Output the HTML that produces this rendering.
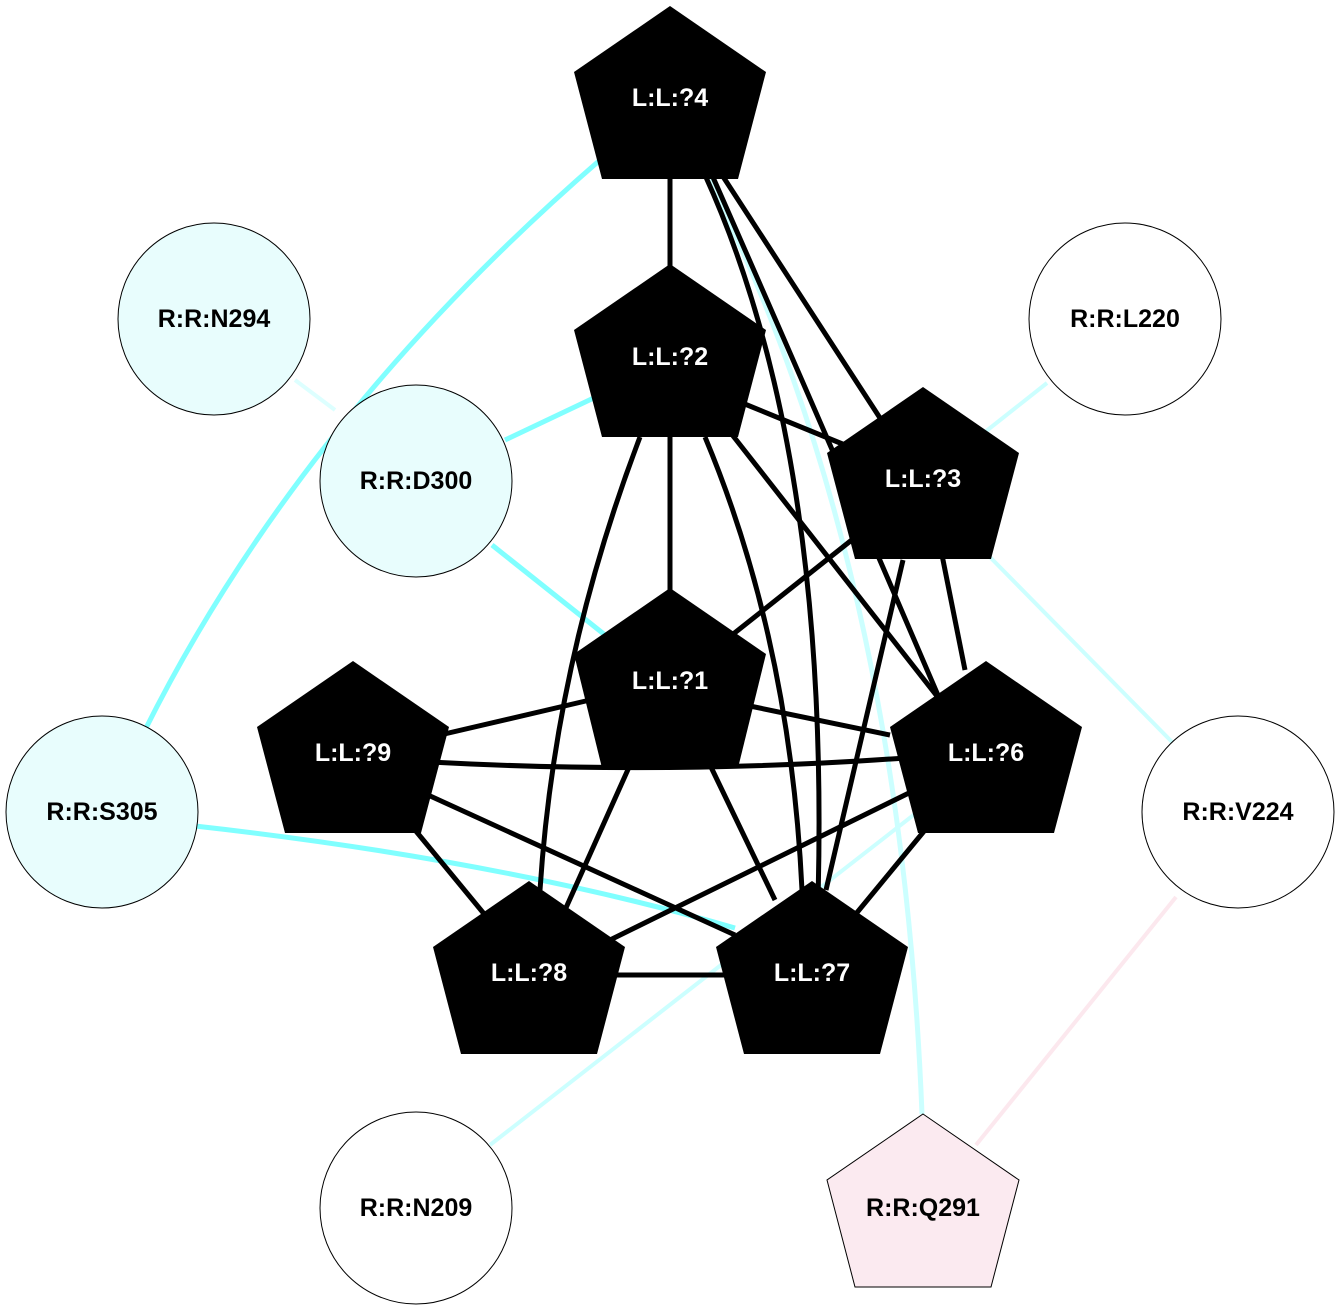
<!DOCTYPE html>
<html><head><meta charset="utf-8"><style>body{margin:0;background:#fff}svg{display:block}text{font-family:"Liberation Sans",sans-serif;font-weight:bold;font-size:25px;text-anchor:middle;dominant-baseline:central}</style></head><body>
<svg width="1340" height="1312" viewBox="0 0 1340 1312">
<g fill="none" stroke-linecap="butt">
<path d="M600,160 Q300,420 145,730" stroke="#80ffff" stroke-width="5"/>
<path d="M600,395 L505,440" stroke="#80ffff" stroke-width="5"/>
<path d="M492,545 L605,635" stroke="#80ffff" stroke-width="5"/>
<path d="M195,826 Q500,860 735,928" stroke="#80ffff" stroke-width="5"/>
<path d="M295,380 L335,410" stroke="#ddffff" stroke-width="4"/>
<path d="M1047,383 L985,432" stroke="#ccffff" stroke-width="4"/>
<path d="M985,552 L1172,742" stroke="#ccffff" stroke-width="4"/>
<path d="M708,178 Q900,560 922,1114" stroke="#ccffff" stroke-width="5"/>
<path d="M490,1145 L920,810" stroke="#ccffff" stroke-width="4"/>
<path d="M1176,897 L976,1145" stroke="#fce8ee" stroke-width="4"/>
</g>
<g fill="none" stroke="#000" stroke-width="5">
<line x1="670" y1="170" x2="670" y2="270"/>
<line x1="722" y1="175" x2="880" y2="418"/>
<path d="M712,175 Q820,420 940,700"/>
<path d="M705,175 Q830,450 818,900"/>
<line x1="735" y1="400" x2="845" y2="445"/>
<line x1="670" y1="437" x2="670" y2="595"/>
<line x1="730" y1="432" x2="940" y2="700"/>
<path d="M640,437 Q555,660 540,890"/>
<path d="M705,437 Q790,640 802,890"/>
<line x1="858" y1="535" x2="732" y2="635"/>
<line x1="942" y1="555" x2="965" y2="670"/>
<line x1="903" y1="560" x2="826" y2="890"/>
<line x1="440" y1="735" x2="590" y2="700"/>
<line x1="745" y1="705" x2="890" y2="735"/>
<line x1="630" y1="765" x2="565" y2="910"/>
<line x1="710" y1="765" x2="775" y2="900"/>
<path d="M430,762 Q670,775 905,758"/>
<line x1="415" y1="830" x2="485" y2="915"/>
<line x1="428" y1="795" x2="735" y2="935"/>
<line x1="915" y1="790" x2="610" y2="940"/>
<line x1="925" y1="830" x2="855" y2="915"/>
<line x1="610" y1="975" x2="725" y2="975"/>
</g>
<g fill="#e8fdfd" stroke="#000" stroke-width="1">
<circle cx="214" cy="319" r="96"/><circle cx="416" cy="481" r="96"/><circle cx="102" cy="812" r="96"/>
</g>
<g fill="#fff" stroke="#000" stroke-width="1">
<circle cx="1125" cy="319" r="96"/><circle cx="1238" cy="812" r="96"/><circle cx="416" cy="1208" r="96"/>
</g>
<g fill="#000">
<polygon points="670,6 766,72 738,179 602,179 574,72"/>
<polygon points="670,264 766,330 738,437 602,437 574,330"/>
<polygon points="923,387 1019,453 991,559 855,559 827,453"/>
<polygon points="670,588 766,654 738,768 602,768 574,654"/>
<polygon points="353,661 449,727 421,833 285,833 257,727"/>
<polygon points="986,661 1082,727 1054,833 918,833 890,727"/>
<polygon points="529,881 625,947 597,1054 461,1054 433,947"/>
<polygon points="812,881 908,947 880,1054 744,1054 716,947"/>
</g>
<polygon points="923,1114 1019,1180 991,1287 855,1287 827,1180" fill="#fbeaf0" stroke="#000" stroke-width="1"/>
<g fill="#fff">
<text x="670" y="98">L:L:?4</text><text x="670" y="357">L:L:?2</text><text x="923" y="479">L:L:?3</text>
<text x="670" y="681">L:L:?1</text><text x="353" y="753">L:L:?9</text><text x="986" y="753">L:L:?6</text>
<text x="529" y="973">L:L:?8</text><text x="812" y="973">L:L:?7</text>
</g>
<g fill="#000">
<text x="214" y="319">R:R:N294</text><text x="416" y="481">R:R:D300</text><text x="102" y="812">R:R:S305</text>
<text x="1125" y="319">R:R:L220</text><text x="1238" y="812">R:R:V224</text><text x="416" y="1208">R:R:N209</text>
<text x="923" y="1208">R:R:Q291</text>
</g>
</svg>
</body></html>
